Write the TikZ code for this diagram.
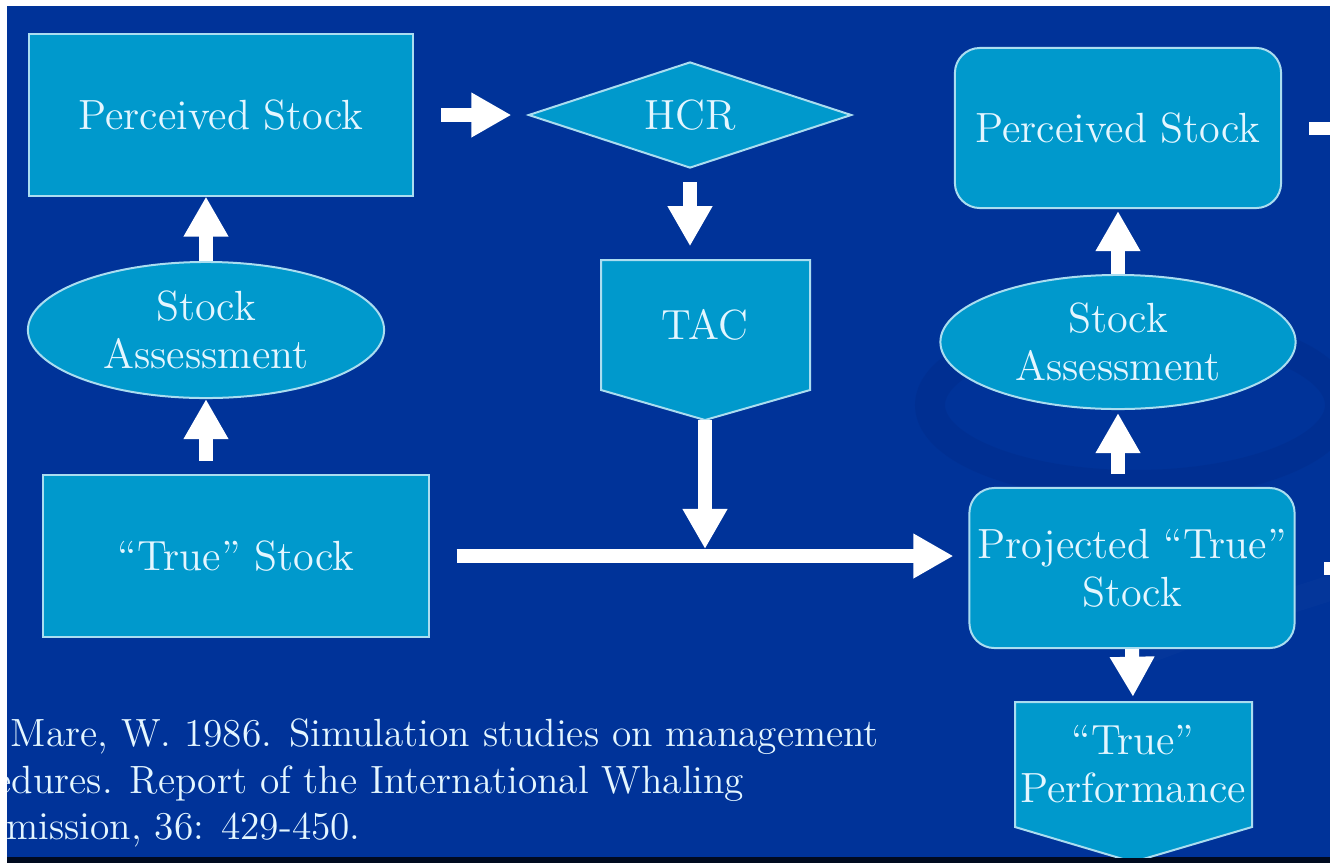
\documentclass[tikz,border=0pt]{standalone}
\usepackage{tikz}
\usetikzlibrary{calc,shapes.geometric,arrows.meta}

\definecolor{slide}{RGB}{0,51,153}
\definecolor{boxblue}{RGB}{0,153,204}
\definecolor{edge}{RGB}{170,221,240}
\definecolor{txt}{RGB}{228,246,255}
\definecolor{swirl}{RGB}{0,34,118}

\tikzset{
    box/.style={draw=edge, line width=0.02cm, fill=boxblue, text=txt, align=center,
        inner sep=0pt, font=\fontsize{12}{13.7}\selectfont},
    rbox/.style={box, rounded corners=0.25cm},
    oval/.style={box, ellipse},
    label/.style={text=txt, align=center, inner sep=0pt, font=\fontsize{12}{13.7}\selectfont},
    reftext/.style={label, font=\fontsize{11.2}{13.4}\selectfont},
    blockarrow/.style={white, line width=0.14cm, -{Triangle[width=0.42cm,length=0.4cm]}},
    stub/.style={white, line width=0.13cm},
}

\begin{document}
\begin{tikzpicture}[x=0.01cm,y=-0.01cm]
    \useasboundingbox (0,0) rectangle (1330,863);
    \fill[white] (0,0) rectangle (1330,863);
    \fill[slide] (7,6) rectangle (1330,857);
    \fill[black!80!slide] (7,857) rectangle (1330,863);

    \begin{scope}
    \clip (7,6) rectangle (1330,857);
    % faint swoosh of the slide behind the right column
    \draw[swirl, line width=0.3cm, opacity=0.18] (1135,405) ellipse (205 and 80);
    \draw[slide!85!white, line width=0.25cm, opacity=0.12] (1150,650) .. controls (1230,620) .. (1340,585);

    % left column
    \node[box, minimum width=3.84cm, minimum height=1.61cm] (psl) at (221,115) {Perceived Stock};
    \node[oval, minimum width=3.56cm, minimum height=1.36cm] (sal) at (206,330) {Stock\\Assessment};
    \node[box, minimum width=3.85cm, minimum height=1.62cm] (tsl) at (236,556) {“True” Stock};

    % middle column
    \node[box, diamond, aspect=3, minimum width=3.23cm, minimum height=1.06cm] (hcr) at (690,115) {HCR};
    \fill[boxblue, draw=edge, line width=0.02cm]
        (601,260) -- (810,260) -- (810,390) -- (705,420) -- (601,390) -- cycle;
    \node[label, minimum width=2.09cm, minimum height=1.3cm] (tac) at (705,325) {TAC};
    \coordinate (tactip) at (705,420);

    % right column
    \node[rbox, minimum width=3.26cm, minimum height=1.6cm] (psr) at (1118,128) {Perceived Stock};
    \node[oval, minimum width=3.55cm, minimum height=1.34cm] (sar) at (1118,342) {Stock\\Assessment};
    \node[rbox, minimum width=3.25cm, minimum height=1.6cm] (proj) at (1132,568) {Projected “True”\\Stock};
    \fill[boxblue, draw=edge, line width=0.02cm]
        (1015,702) -- (1252,702) -- (1252,827) -- (1133,862) -- (1015,827) -- cycle;
    \node[label, minimum width=2.37cm, minimum height=1.25cm] (perf) at (1133,764) {“True”\\Performance};

    % arrows
    \draw[blockarrow, shorten <=0.27cm, shorten >=0.16cm] (psl) -- (hcr);
    \draw[blockarrow, shorten <=0.13cm, shorten >=0.13cm] (hcr.south) -- (hcr.south |- tac.north);
    \draw[blockarrow, shorten >=0.07cm] (tactip) -- (tactip |- tsl.east);
    \draw[blockarrow, shorten <=0.27cm, shorten >=0.15cm] (tsl.east) -- (tsl.east -| proj.west);
    \draw[blockarrow, shorten <=0.13cm] (sal.south |- tsl.north) -- (sal.south);
    \draw[blockarrow] (sal.north) -- (sal.north |- psl.south);
    \draw[blockarrow, shorten <=0.13cm, shorten >=0.03cm] (sar.south |- proj.north) -- (sar.south);
    \draw[blockarrow, shorten >=0.02cm] (sar.north) -- (sar.north |- psr.south);
    \draw[blockarrow, shorten >=0.04cm] (proj.south) -- (perf.north);

    % arrows running off to the right
    \coordinate (offr) at (1345,128);
    \coordinate (offp) at (1345,568);
    \draw[stub, shorten <=0.27cm] (psr.east) -- (offr);
    \draw[stub, shorten <=0.285cm] (proj.east) -- (offp);

    % reference
    \node[reftext, anchor=base west] (ref1) at (10,746) {Mare, W. 1986. Simulation studies on management};
    \node[reftext, anchor=base west] (ref2) at (-6,793) {edures. Report of the International Whaling};
    \node[reftext, anchor=base west] (ref3) at (6,839) {mission, 36: 429-450.};
    \end{scope}
\end{tikzpicture}
\end{document}
